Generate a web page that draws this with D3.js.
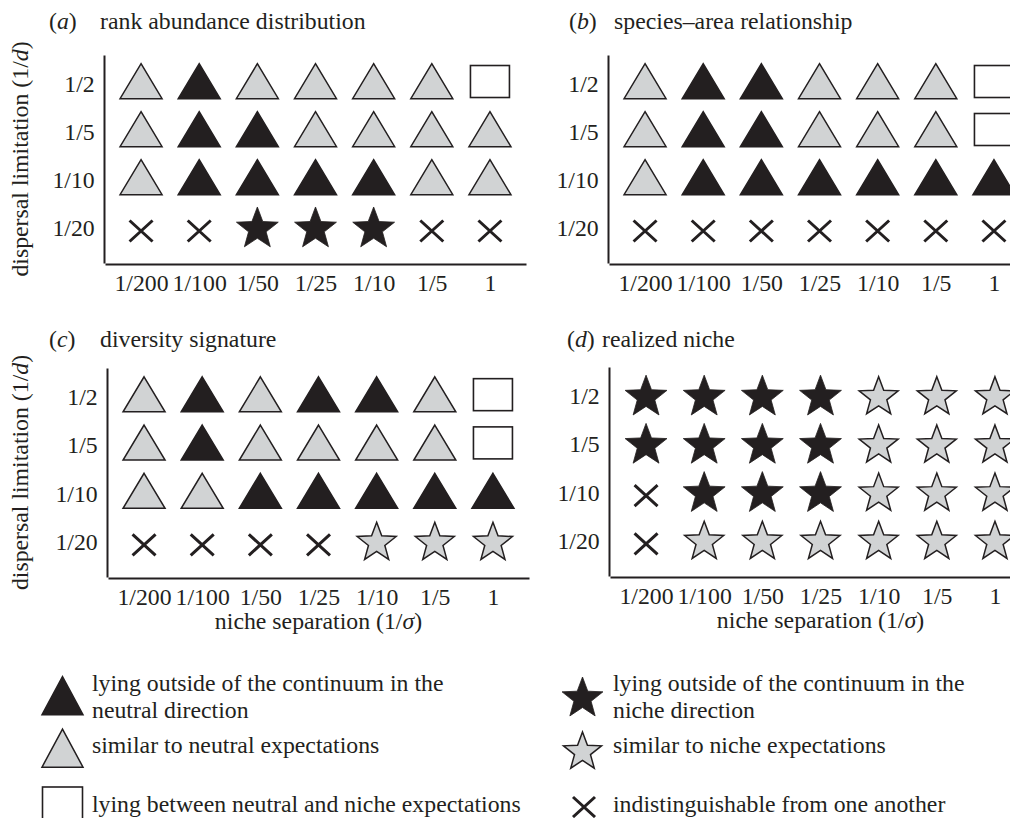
<!DOCTYPE html>
<html>
<head>
<meta charset="utf-8">
<script src="https://cdn.jsdelivr.net/npm/d3@7"></script>
<style>
  html, body { margin: 0; padding: 0; background: #fff; }
  svg { display: block; }
  text { font-family: "Liberation Serif", "Times New Roman", serif; fill: #231f20; }
</style>
</head>
<body>
<svg id="chart" width="1010" height="818"></svg>
<script>
// ---- categories ----
const nicheSeparation = ['1/200', '1/100', '1/50', '1/25', '1/10', '1/5', '1'];
const dispersalLimitation = ['1/2', '1/5', '1/10', '1/20'];

// ---- outcome per cell (rows = dispersal limitation, columns = niche separation) ----
// N: outside continuum, neutral direction   n: similar to neutral expectations
// B: between neutral and niche              S: outside continuum, niche direction
// s: similar to niche expectations          X: indistinguishable
const rankAbundance = [
  ['n', 'N', 'n', 'n', 'n', 'n', 'B'],
  ['n', 'N', 'N', 'n', 'n', 'n', 'n'],
  ['n', 'N', 'N', 'N', 'N', 'n', 'n'],
  ['X', 'X', 'S', 'S', 'S', 'X', 'X']
];
const speciesArea = [
  ['n', 'N', 'N', 'n', 'n', 'n', 'B'],
  ['n', 'N', 'N', 'n', 'n', 'n', 'B'],
  ['n', 'N', 'N', 'N', 'N', 'N', 'N'],
  ['X', 'X', 'X', 'X', 'X', 'X', 'X']
];
const diversitySignature = [
  ['n', 'N', 'n', 'N', 'N', 'n', 'B'],
  ['n', 'N', 'n', 'n', 'n', 'n', 'B'],
  ['n', 'n', 'N', 'N', 'N', 'N', 'N'],
  ['X', 'X', 'X', 'X', 's', 's', 's']
];
const realizedNiche = [
  ['S', 'S', 'S', 'S', 's', 's', 's'],
  ['S', 'S', 'S', 'S', 's', 's', 's'],
  ['X', 'S', 'S', 'S', 's', 's', 's'],
  ['X', 's', 's', 's', 's', 's', 's']
];

const panelLetters = ['a', 'b', 'c', 'd'];
const panelNames = ['rank abundance distribution', 'species\u2013area relationship', 'diversity signature', 'realized niche'];
const panelGrids = [rankAbundance, speciesArea, diversitySignature, realizedNiche];

const legendLeft = [
  { code: 'N', lines: ['lying outside of the continuum in the', 'neutral direction'] },
  { code: 'n', lines: ['similar to neutral expectations'] },
  { code: 'B', lines: ['lying between neutral and niche expectations'] }
];
const legendRight = [
  { code: 'S', lines: ['lying outside of the continuum in the', 'niche direction'] },
  { code: 's', lines: ['similar to niche expectations'] },
  { code: 'X', lines: ['indistinguishable from one another'] }
];

// ---- styling ----
const INK = '#231f20';
const GREY = '#d1d3d4';
const FS = 23;      // base font size
const SX = 1.035;   // slight horizontal stretch of the serif face

const svg = d3.select('#chart');

// text with optional italic pieces
function addText(parent, x, y, parts, opts = {}) {
  const size = opts.size || FS;
  const sx = opts.sx || SX;
  const rot = opts.rotate ? ` rotate(${opts.rotate})` : '';
  const t = parent.append('text')
    .attr('transform', `translate(${x},${y})${rot} scale(${sx},1)`)
    .attr('font-size', size)
    .attr('text-anchor', opts.anchor || 'start');
  parts.forEach(p => {
    const piece = typeof p === 'string' ? { text: p } : p;
    const ts = t.append('tspan').text(piece.text);
    if (piece.italic) ts.attr('font-style', 'italic');
  });
  return t;
}

// ---- marker shapes ----
function trianglePath(w, h) {
  const p = d3.path();
  p.moveTo(0, -2 * h / 3);
  p.lineTo(w / 2, h / 3);
  p.lineTo(-w / 2, h / 3);
  p.closePath();
  return p.toString();
}
function starPath(r, inner = 0.42) {
  const pts = d3.range(10).map(i => [i * Math.PI / 5, i % 2 ? r * inner : r]);
  return d3.lineRadial().angle(d => d[0]).radius(d => d[1]).curve(d3.curveLinearClosed)(pts);
}
function crossPath(hw, hh) {
  const p = d3.path();
  p.moveTo(-hw, -hh); p.lineTo(hw, hh);
  p.moveTo(-hw, hh); p.lineTo(hw, -hh);
  return p.toString();
}

// sizes: grid markers and legend markers
const SIZES = {
  grid:   { triW: 42, triH: 35, sqW: 39, sqH: 32, sqDy: -21.5, starR: 22, starGR: 20.5, starDy: -2, xw: 11.5, xh: 10.5 },
  legend: { triW: 41, triH: 38, sqW: 40, sqH: 40, sqDy: 0, starR: 21.5, starGR: 20, starDy: 0, xw: 11, xh: 10 }
};

function drawMarker(g, code, kind) {
  const s = SIZES[kind];
  if (code === 'N' || code === 'n') {
    g.append('path')
      .attr('d', trianglePath(s.triW, s.triH))
      .attr('fill', code === 'N' ? INK : GREY)
      .attr('stroke', INK).attr('stroke-width', 1.5).attr('stroke-linejoin', 'miter');
  } else if (code === 'B') {
    g.append('rect')
      .attr('x', -s.sqW / 2).attr('y', kind === 'grid' ? s.sqDy : -s.sqH / 2)
      .attr('width', s.sqW).attr('height', s.sqH)
      .attr('fill', '#fff').attr('stroke', INK).attr('stroke-width', 1.6);
  } else if (code === 'S') {
    g.append('path')
      .attr('transform', `translate(0,${s.starDy})`)
      .attr('d', starPath(s.starR))
      .attr('fill', INK).attr('stroke', INK).attr('stroke-width', 0.8);
  } else if (code === 's') {
    g.append('path')
      .attr('transform', `translate(0,${s.starDy})`)
      .attr('d', starPath(s.starGR))
      .attr('fill', GREY).attr('stroke', INK).attr('stroke-width', 1.5);
  } else if (code === 'X') {
    g.append('path')
      .attr('d', crossPath(s.xw, s.xh))
      .attr('fill', 'none').attr('stroke', INK).attr('stroke-width', 3);
  }
}

// ---- panel layout ----
const layout = [
  { axisX: 104, top: 55,  bottom: 263, tagX: 49,  nameX: 100, titleY: 29,  yTitle: true,  xTitle: false },
  { axisX: 608, top: 55,  bottom: 263, tagX: 569, nameX: 614, titleY: 29,  yTitle: false, xTitle: false },
  { axisX: 107, top: 368, bottom: 577, tagX: 49,  nameX: 100, titleY: 347, yTitle: true,  xTitle: true },
  { axisX: 609, top: 367, bottom: 576, tagX: 567, nameX: 602, titleY: 347, yTitle: false, xTitle: true }
];

panelGrids.forEach((grid, i) => {
  const L = layout[i];
  const g = svg.append('g');

  const x = d3.scalePoint().domain(nicheSeparation)
    .range([L.axisX + 1, L.axisX + 422]).padding(0.62);
  const y = d3.scalePoint().domain(dispersalLimitation)
    .range([L.top, L.bottom]).padding(0.667);

  // axes
  const yAxis = g.append('g').attr('transform', `translate(${L.axisX},0)`)
    .call(d3.axisLeft(y).tickSize(0).tickPadding(9));
  yAxis.selectAll('text')
    .attr('font-size', FS).attr('fill', INK)
    .attr('dy', '0.2em')
    .attr('transform', `scale(${SX},1)`);

  const xAxis = g.append('g').attr('transform', `translate(0,${L.bottom + 1})`)
    .call(d3.axisBottom(x).tickSize(0).tickPadding(11));
  xAxis.selectAll('text')
    .attr('font-size', FS).attr('fill', INK)
    .attr('transform', `scale(${SX},1)`);

  [yAxis, xAxis].forEach(a => {
    a.attr('font-family', null).attr('font-size', null);
    a.select('.domain').attr('stroke', INK).attr('stroke-width', 2);
  });

  // markers
  const cells = grid.flatMap((row, ri) => row.map((code, ci) => ({
    code, d: dispersalLimitation[ri], s: nicheSeparation[ci]
  })));
  g.append('g').selectAll('g.cell').data(cells).join('g')
    .attr('class', 'cell')
    .attr('transform', c => `translate(${x(c.s)},${y(c.d)})`)
    .each(function (c) { drawMarker(d3.select(this), c.code, 'grid'); });

  // panel title
  addText(g, L.tagX, L.titleY, ['(', { text: panelLetters[i], italic: true }, ')']);
  addText(g, L.nameX, L.titleY, [panelNames[i]]);

  // axis titles
  if (L.yTitle) {
    addText(g, 28, (L.top + L.bottom) / 2,
      ['dispersal limitation (1/', { text: 'd', italic: true }, ')'],
      { anchor: 'middle', rotate: -90 });
  }
  if (L.xTitle) {
    const cx = (x(nicheSeparation[0]) + x(nicheSeparation[nicheSeparation.length - 1])) / 2;
    addText(g, cx, L.bottom + 52,
      ['niche separation (1/', { text: '\u03c3', italic: true }, ')'],
      { anchor: 'middle' });
  }
});

// ---- legend ----
const legendCols = [
  { items: legendLeft,  markX: 62.5, textX: 92,  markY: [702, 754.5, 807], crossDx: 0 },
  { items: legendRight, markX: 582.5, textX: 613, markY: [698.5, 752, 807], crossDx: 1.5 }
];
const legendTextY = [[691, 718], [753], [812]];
const legend = svg.append('g');
legendCols.forEach(col => {
  col.items.forEach((item, k) => {
    const mg = legend.append('g')
      .attr('transform', `translate(${col.markX + (item.code === 'X' ? col.crossDx : 0)},${col.markY[k]})`);
    drawMarker(mg, item.code, 'legend');
    item.lines.forEach((line, li) => {
      addText(legend, col.textX, legendTextY[k][li], [line]);
    });
  });
});
</script>
</body>
</html>
